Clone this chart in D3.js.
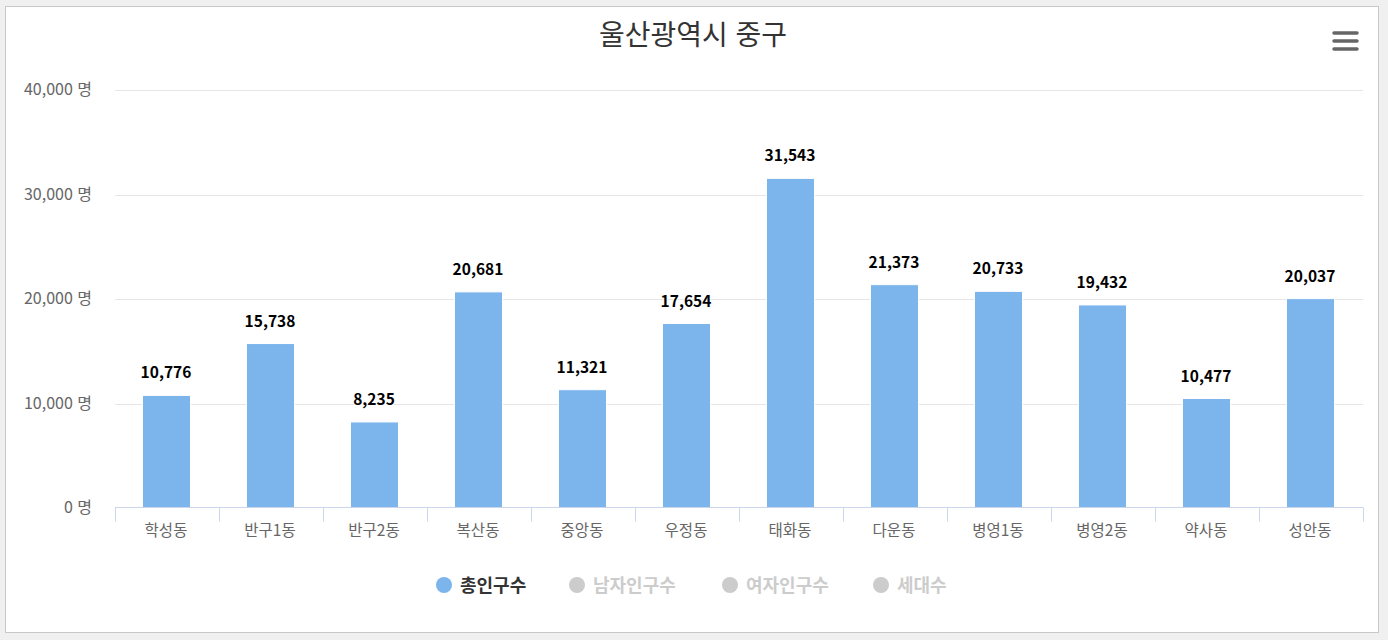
<!DOCTYPE html>
<html lang="ko">
<head>
<meta charset="UTF-8">
<title>울산광역시 중구</title>
<script src="https://d3js.org/d3.v7.min.js"></script>
<style>
    body {margin: 0; background: #f0f0f0;}
    text {font-family: "Noto Sans CJK KR", "Noto Sans", sans-serif;}
</style>
</head>
<body>
<script>
    const dongs = ["학성동", "반구1동", "반구2동", "복산동", "중앙동", "우정동", "태화동", "다운동", "병영1동", "병영2동", "약사동", "성안동"];
    const population = [10776, 15738, 8235, 20681, 11321, 17654, 31543, 21373, 20733, 19432, 10477, 20037];
    const yTicks = [0, 10000, 20000, 30000, 40000];
    const legendNames = ["총인구수", "남자인구수", "여자인구수", "세대수"];

    const width = 1388, height = 640;
    const svg = d3.select("body").append("svg")
        .attr("width", width).attr("height", height)
        .style("display", "block");

    // card
    svg.append("rect").attr("x", 0).attr("y", 0).attr("width", width).attr("height", height).attr("fill", "#f0f0f0");
    svg.append("rect").attr("x", 5.5).attr("y", 6.5).attr("width", 1373).attr("height", 626)
        .attr("fill", "#fff").attr("stroke", "#c8c8c8");

    const x = d3.scaleBand().domain(dongs).range([115, 1363]);
    const y = d3.scaleLinear().domain([0, 40000]).range([508, 90]);
    const fmt = d3.format(",");

    svg.append("text")
        .attr("x", 693).attr("y", 45)
        .attr("text-anchor", "middle")
        .style("font-size", "28px").style("fill", "#333")
        .text("울산광역시 중구");

    // menu icon
    [0, 8, 16].forEach(d => {
        svg.append("line")
            .attr("x1", 1334).attr("x2", 1357)
            .attr("y1", 33 + d).attr("y2", 33 + d)
            .attr("stroke", "#666").attr("stroke-width", 3.5).attr("stroke-linecap", "round");
    });

    // grid + y labels
    const yAxis = svg.append("g");
    yAxis.selectAll("line").data(yTicks.filter(d => d > 0)).enter().append("line")
        .attr("x1", 115).attr("x2", 1363)
        .attr("y1", d => Math.round(y(d)) + 0.5).attr("y2", d => Math.round(y(d)) + 0.5)
        .attr("stroke", "#e6e6e6");
    yAxis.selectAll("text").data(yTicks).enter().append("text")
        .attr("x", 92).attr("y", d => y(d) + 5)
        .attr("text-anchor", "end")
        .style("font-size", "16px").style("fill", "#666")
        .text(d => fmt(d) + " 명");

    // bars
    svg.selectAll("rect.bar").data(population).enter().append("rect")
        .attr("class", "bar")
        .attr("x", (d, i) => x(dongs[i]) + x.bandwidth() / 2 - 24.5)
        .attr("width", 48)
        .attr("y", d => y(d))
        .attr("height", d => y(0) - y(d))
        .attr("fill", "#7cb5ec")
        .attr("stroke", "#fff").attr("stroke-width", 1);

    svg.selectAll("text.val").data(population).enter().append("text")
        .attr("class", "val")
        .attr("x", (d, i) => x(dongs[i]) + x.bandwidth() / 2 - 1)
        .attr("y", d => y(d) - 17)
        .attr("text-anchor", "middle")
        .style("font-size", "15.5px").style("font-weight", "bold").style("fill", "#000")
        .style("paint-order", "stroke").style("stroke", "#fff").style("stroke-width", 2)
        .text(d => fmt(d));

    // x axis
    const xg = svg.append("g").attr("transform", "translate(0,507.5)");
    xg.append("line").attr("x1", 115).attr("x2", 1363).attr("stroke", "#ccd6eb");
    xg.selectAll("line.tick").data(d3.range(dongs.length + 1)).enter().append("line")
        .attr("class", "tick")
        .attr("x1", i => Math.round(115 + i * x.step()) + 0.5)
        .attr("x2", i => Math.round(115 + i * x.step()) + 0.5)
        .attr("y1", 0).attr("y2", 14)
        .attr("stroke", "#ccd6eb");
    xg.selectAll("text").data(dongs).enter().append("text")
        .attr("x", d => x(d) + x.bandwidth() / 2 - 1)
        .attr("y", 28)
        .attr("text-anchor", "middle")
        .style("font-size", "15.5px").style("fill", "#666")
        .text(d => d);

    // legend
    const legendX = [444, 577, 730, 881];
    const lg = svg.selectAll("g.legend").data(legendNames).enter().append("g")
        .attr("class", "legend")
        .attr("transform", (d, i) => `translate(${legendX[i]},585)`);
    lg.append("circle").attr("r", 8)
        .attr("fill", (d, i) => i === 0 ? "#7cb5ec" : "#cccccc");
    lg.append("text")
        .attr("x", 16).attr("y", 6.5)
        .style("font-size", "18px").style("font-weight", "bold")
        .style("fill", (d, i) => i === 0 ? "#333" : "#cccccc")
        .text(d => d);
</script>
</body>
</html>
